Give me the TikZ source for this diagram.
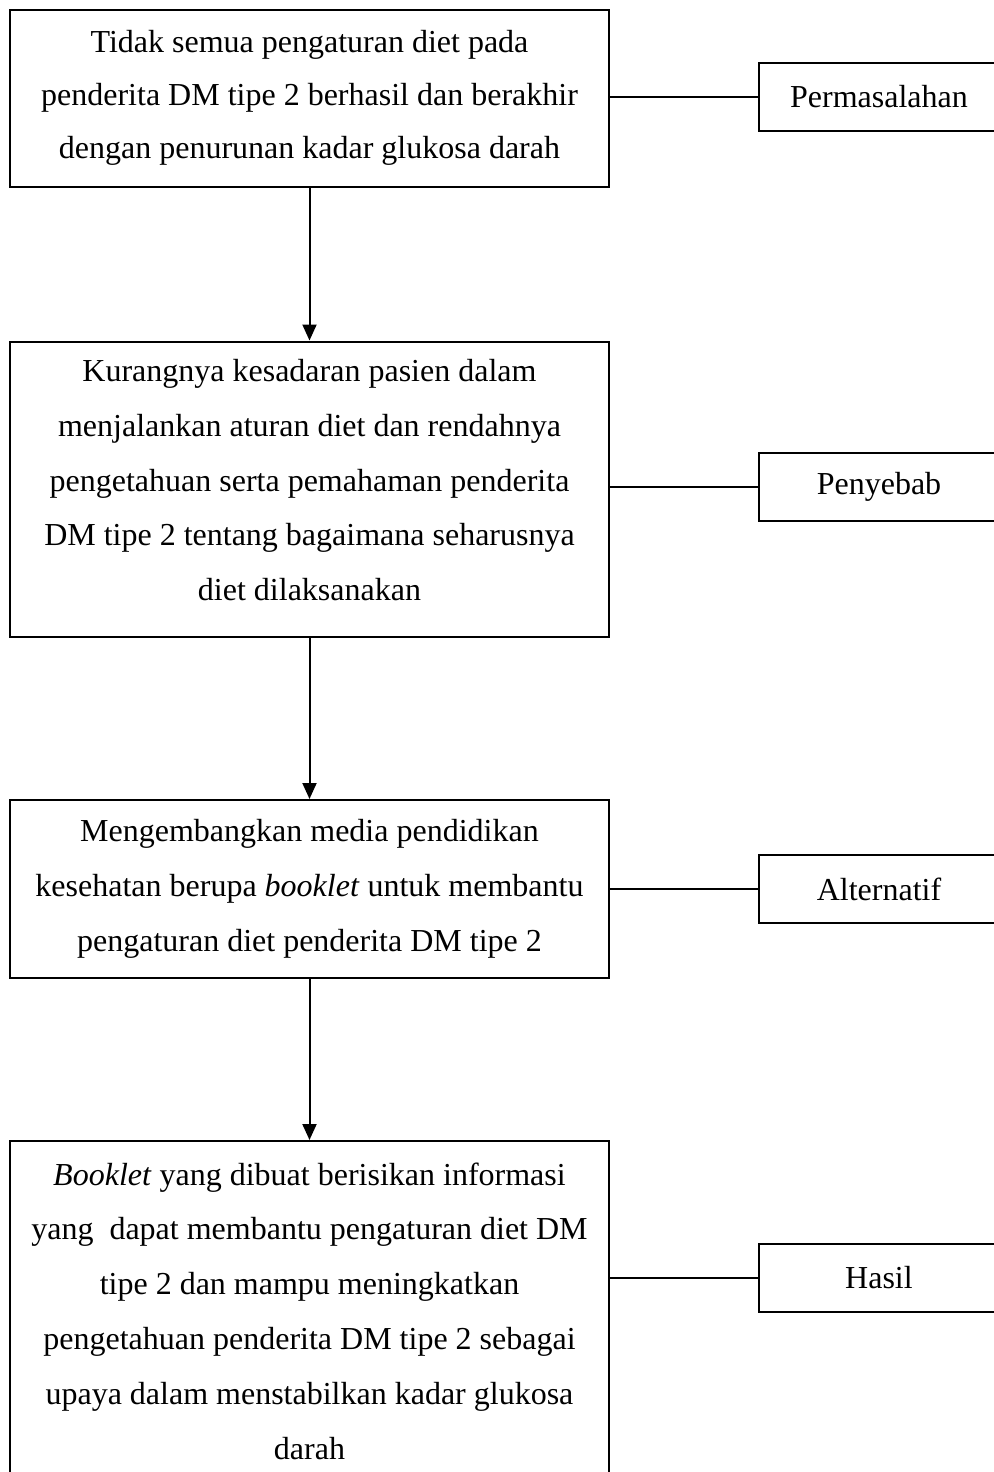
\documentclass[tikz,border=0pt]{standalone}
\usepackage{fontspec}
\setmainfont{Liberation Serif}
\usetikzlibrary{arrows.meta}
\begin{document}
\begin{tikzpicture}[x=0.5pt,y=-0.5pt,
  mainbox/.style={draw, line width=1pt, inner sep=0pt, minimum width=299.5pt, align=center,
    font=\fontsize{16}{27.4}\selectfont},
  sidebox/.style={draw, line width=1pt, inner sep=0pt, minimum width=120pt, minimum height=34pt,
    font=\fontsize{16}{27.4}\selectfont},
  flow/.style={line width=1pt, -{Triangle[length=8pt,width=7pt]}},
  link/.style={line width=0.9pt}]
\useasboundingbox (0,0) rectangle (994,1472);
\clip (0,0) rectangle (994,1472);
\fill[white] (0,0) rectangle (994,1472);
\node[mainbox, minimum height=88.5pt, font=\fontsize{16}{26.6}\selectfont] (b1) at (309.5,98)
  {Tidak semua pengaturan diet pada\\penderita DM tipe 2 berhasil dan berakhir\\dengan penurunan kadar glukosa darah\rule[-2pt]{0pt}{2pt}};
\node[mainbox, minimum height=147.5pt] (b2) at (309.5,489)
  {Kurangnya kesadaran pasien dalam\\menjalankan aturan diet dan rendahnya\\pengetahuan serta pemahaman penderita\\DM tipe 2 tentang bagaimana seharusnya\\diet dilaksanakan\rule[-9pt]{0pt}{9pt}};
\node[mainbox, minimum height=89pt] (b3) at (309.5,889)
  {Mengembangkan media pendidikan\\kesehatan berupa \textit{booklet} untuk membantu\\pengaturan diet penderita DM tipe 2};
\node[mainbox, minimum height=170pt, anchor=north] (b4) at (309.5,1140)
  {\textit{Booklet} yang dibuat berisikan informasi\\yang\ \ dapat membantu pengaturan diet DM\\tipe 2 dan mampu meningkatkan\\pengetahuan penderita DM tipe 2 sebagai\\upaya dalam menstabilkan kadar glukosa\\darah};
\node[sidebox] (s1) at (879,97) {Permasalahan};
\node[sidebox] (s2) at (879,487) {Penyebab};
\node[sidebox] (s3) at (879,889) {Alternatif};
\node[sidebox] (s4) at (879,1278) {Hasil};
\draw[flow] (b1) -- (b2);
\draw[flow] (b2) -- (b3);
\draw[flow] (b3) -- (b4);
\draw[link] (s1.west) -- (s1.west -| b1.east);
\draw[link] (s2.west) -- (s2.west -| b2.east);
\draw[link] (s3.west) -- (s3.west -| b3.east);
\draw[link] (s4.west) -- (s4.west -| b4.east);
\end{tikzpicture}
\end{document}
